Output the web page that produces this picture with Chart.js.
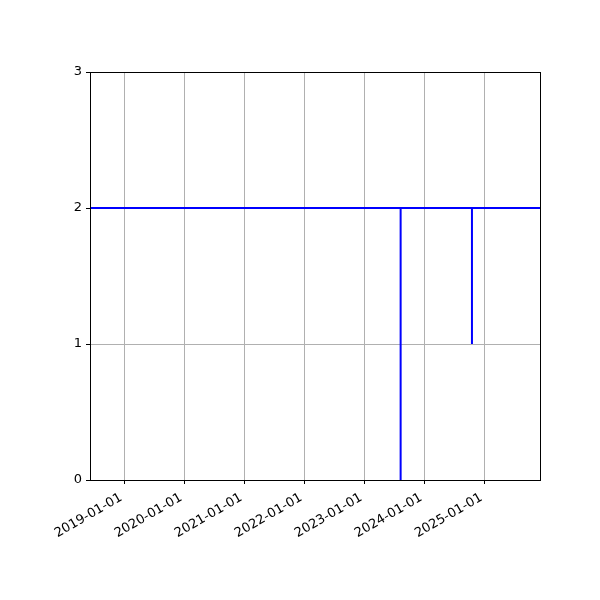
<!DOCTYPE html>
<html>
<head>
<meta charset="utf-8">
<script src="https://cdn.jsdelivr.net/npm/chart.js@4/dist/chart.umd.min.js"></script>
<style>
  html, body { margin: 0; padding: 0; background: #fff; }
  #wrap { width: 600px; height: 600px; }
</style>
</head>
<body>
<div id="wrap"><canvas id="chart"></canvas></div>
<script>
// Data: dates and values
const pointDates = ['2018-06-07', '2023-08-10', '2023-08-10', '2023-08-10', '2024-10-17', '2024-10-17', '2024-10-17', '2025-12-05'];
const pointValues = [2, 2, 0, 2, 2, 1, 2, 2];
const tickYears = [2019, 2020, 2021, 2022, 2023, 2024, 2025];
const yTicks = [0, 1, 2, 3];

const toMs = s => Date.parse(s + 'T00:00:00Z');
const points = pointDates.map((d, i) => ({ x: toMs(d), y: pointValues[i] }));

const fmt = ms => new Date(ms).toISOString().slice(0, 10);

// full box around the plot like matplotlib spines
const frame = {
    id: 'frame',
    afterDraw(chart) {
        const a = chart.chartArea, ctx = chart.ctx;
        ctx.save();
        ctx.strokeStyle = '#000';
        ctx.lineWidth = 1;
        ctx.strokeRect(Math.round(a.left) + 0.5, Math.round(a.top) + 0.5, Math.round(a.right - a.left), Math.round(a.bottom - a.top));
        ctx.restore();
    }
};

new Chart(document.getElementById('chart'), {
    type: 'line',
    data: {
        datasets: [{
            data: points,
            borderColor: '#0000ff',
            borderWidth: 2,
            pointRadius: 0,
            tension: 0,
            fill: false
        }]
    },
    options: {
        responsive: true,
        maintainAspectRatio: false,
        animation: false,
        layout: { padding: { left: 0, top: 72, right: 60, bottom: 0 } },
        plugins: { legend: { display: false }, tooltip: { enabled: false } },
        scales: {
            x: {
                type: 'linear',
                min: toMs('2018-06-07'),
                max: toMs('2025-12-05'),
                afterBuildTicks: s => { s.ticks = tickYears.map(y => ({ value: Date.UTC(y, 0, 1) })); },
                afterFit: s => { s.height = 120; },
                grid: { color: '#b0b0b0', tickColor: '#000', tickLength: 4, lineWidth: 1 },
                border: { color: '#000' },
                ticks: {
                    callback: v => fmt(v),
                    minRotation: 30,
                    maxRotation: 30,
                    autoSkip: false,
                    padding: 6,
                    labelOffset: -3,
                    color: '#000',
                    font: { family: 'DejaVu Sans', size: 13 }
                }
            },
            y: {
                min: 0,
                max: 3,
                afterBuildTicks: s => { s.ticks = yTicks.map(v => ({ value: v })); },
                afterFit: s => { s.width = 90; },
                grid: { color: '#b0b0b0', tickColor: '#000', tickLength: 4, lineWidth: 1 },
                border: { color: '#000' },
                ticks: {
                    padding: 4,
                    color: '#000',
                    font: { family: 'DejaVu Sans', size: 13 }
                }
            }
        }
    },
    plugins: [frame]
});
</script>
</body>
</html>
